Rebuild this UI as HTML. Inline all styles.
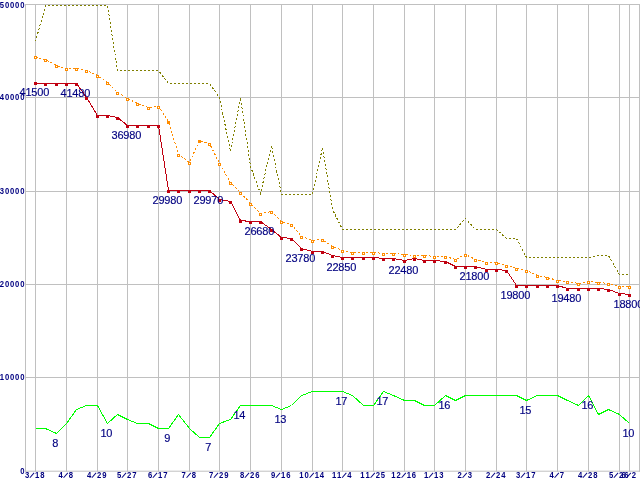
<!DOCTYPE html>
<html><head><meta charset="utf-8"><title>chart</title>
<style>
html,body{margin:0;padding:0;background:#fff;overflow:hidden}
svg{display:block}
.ax{font-family:"Liberation Sans","DejaVu Sans",sans-serif;font-weight:bold;font-size:9.6px;fill:#000080}
.vl{font-family:"Liberation Sans","DejaVu Sans",sans-serif;font-size:11px;fill:#000080;stroke:#000080;stroke-width:0.15px;letter-spacing:-0.2px}
</style></head><body>
<svg width="640" height="480" viewBox="0 0 640 480">
<rect width="640" height="480" fill="#fff"/>
<g stroke="#c0c0c0" stroke-width="1" fill="none">
<line x1="25" y1="4.5" x2="640" y2="4.5"/>
<line x1="25" y1="97.5" x2="640" y2="97.5"/>
<line x1="25" y1="191.5" x2="640" y2="191.5"/>
<line x1="25" y1="284.5" x2="640" y2="284.5"/>
<line x1="25" y1="377.5" x2="640" y2="377.5"/>
<line x1="25" y1="471.2" x2="640" y2="471.2"/>
<line x1="25.5" y1="4" x2="25.5" y2="471.7"/>
<line x1="639.5" y1="4" x2="639.5" y2="471.7"/>
<line x1="35.5" y1="4" x2="35.5" y2="471.7"/>
<line x1="66.5" y1="4" x2="66.5" y2="471.7"/>
<line x1="97.5" y1="4" x2="97.5" y2="471.7"/>
<line x1="127.5" y1="4" x2="127.5" y2="471.7"/>
<line x1="158.5" y1="4" x2="158.5" y2="471.7"/>
<line x1="189.5" y1="4" x2="189.5" y2="471.7"/>
<line x1="219.5" y1="4" x2="219.5" y2="471.7"/>
<line x1="250.5" y1="4" x2="250.5" y2="471.7"/>
<line x1="281.5" y1="4" x2="281.5" y2="471.7"/>
<line x1="312.5" y1="4" x2="312.5" y2="471.7"/>
<line x1="342.5" y1="4" x2="342.5" y2="471.7"/>
<line x1="373.5" y1="4" x2="373.5" y2="471.7"/>
<line x1="404.5" y1="4" x2="404.5" y2="471.7"/>
<line x1="434.5" y1="4" x2="434.5" y2="471.7"/>
<line x1="465.5" y1="4" x2="465.5" y2="471.7"/>
<line x1="496.5" y1="4" x2="496.5" y2="471.7"/>
<line x1="526.5" y1="4" x2="526.5" y2="471.7"/>
<line x1="557.5" y1="4" x2="557.5" y2="471.7"/>
<line x1="588.5" y1="4" x2="588.5" y2="471.7"/>
<line x1="619.5" y1="4" x2="619.5" y2="471.7"/>
<line x1="629.5" y1="4" x2="629.5" y2="471.7"/>
</g>
<polyline points="35.5,428.5 45.5,428.5 56.5,433.5 66.5,423.5 76.5,409.5 86.5,405.5 97.5,405.5 107.5,423.5 117.5,414.5 127.5,419.5 137.5,423.5 148.5,423.5 158.5,428.5 168.5,428.5 178.5,414.5 189.5,428.5 199.5,437.5 209.5,437.5 219.5,423.5 230.5,419.5 240.5,405.5 250.5,405.5 260.5,405.5 271.5,405.5 281.5,409.5 291.5,405.5 301.5,395.5 312.5,391.5 322.5,391.5 332.5,391.5 342.5,391.5 352.5,395.5 363.5,405.5 373.5,405.5 383.5,391.5 393.5,395.5 404.5,400.5 414.5,400.5 424.5,405.5 434.5,405.5 445.5,395.5 455.5,400.5 465.5,395.5 475.5,395.5 486.5,395.5 496.5,395.5 506.5,395.5 516.5,395.5 526.5,400.5 537.5,395.5 547.5,395.5 557.5,395.5 567.5,400.5 578.5,405.5 588.5,395.5 598.5,414.5 608.5,409.5 619.5,414.5 629.5,423.5" fill="none" stroke="#00ff00" stroke-width="1" shape-rendering="crispEdges"/>
<polyline points="35.5,41.5 45.5,5.5 56.5,5.5 66.5,5.5 76.5,5.5 86.5,5.5 97.5,5.5 107.5,5.5 117.5,70.5 127.5,70.5 137.5,70.5 148.5,70.5 158.5,70.5 168.5,83.5 178.5,83.5 189.5,83.5 199.5,83.5 209.5,83.5 219.5,97.5 230.5,151.5 240.5,97.5 250.5,166.5 260.5,193.5 271.5,145.5 281.5,194.5 291.5,194.5 301.5,194.5 312.5,194.5 322.5,147.5 332.5,209.5 342.5,229.5 352.5,229.5 363.5,229.5 373.5,229.5 383.5,229.5 393.5,229.5 404.5,229.5 414.5,229.5 424.5,229.5 434.5,229.5 445.5,229.5 455.5,229.5 465.5,218.5 475.5,229.5 486.5,229.5 496.5,229.5 506.5,238.5 516.5,238.5 526.5,257.5 537.5,257.5 547.5,257.5 557.5,257.5 567.5,257.5 578.5,257.5 588.5,257.5 598.5,255.5 608.5,255.5 619.5,274.5 629.5,274.5" fill="none" stroke="#808000" stroke-width="1" stroke-dasharray="2,2" shape-rendering="crispEdges"/>
<polyline points="35.5,57.5 45.5,59.5 56.5,65.5 66.5,68.5 76.5,68.5 86.5,70.5 97.5,75.5 107.5,82.5 117.5,92.5 127.5,98.5 137.5,103.5 148.5,107.5 158.5,106.5 168.5,121.5 178.5,154.5 189.5,162.5 199.5,140.5 209.5,143.5 219.5,163.5 230.5,182.5 240.5,192.5 250.5,203.5 260.5,213.5 271.5,211.5 281.5,221.5 291.5,224.5 301.5,236.5 312.5,240.5 322.5,239.5 332.5,246.5 342.5,250.5 352.5,252.5 363.5,252.5 373.5,252.5 383.5,253.5 393.5,253.5 404.5,254.5 414.5,255.5 424.5,255.5 434.5,256.5 445.5,256.5 455.5,259.5 465.5,254.5 475.5,259.5 486.5,262.5 496.5,262.5 506.5,265.5 516.5,268.5 526.5,270.5 537.5,275.5 547.5,277.5 557.5,280.5 567.5,281.5 578.5,283.5 588.5,281.5 598.5,282.5 608.5,283.5 619.5,286.5 629.5,286.5" fill="none" stroke="#ff8c00" stroke-width="1" stroke-dasharray="2,2" shape-rendering="crispEdges"/>
<g fill="#fff" stroke="#ff8c00" stroke-width="1">
<rect x="34.5" y="56.5" width="2" height="2"/>
<rect x="44.5" y="59.5" width="2" height="2"/>
<rect x="55.5" y="65.5" width="2" height="2"/>
<rect x="65.5" y="68.5" width="2" height="2"/>
<rect x="75.5" y="68.5" width="2" height="2"/>
<rect x="85.5" y="70.5" width="2" height="2"/>
<rect x="96.5" y="75.5" width="2" height="2"/>
<rect x="106.5" y="82.5" width="2" height="2"/>
<rect x="116.5" y="92.5" width="2" height="2"/>
<rect x="126.5" y="98.5" width="2" height="2"/>
<rect x="136.5" y="103.5" width="2" height="2"/>
<rect x="147.5" y="107.5" width="2" height="2"/>
<rect x="157.5" y="106.5" width="2" height="2"/>
<rect x="167.5" y="121.5" width="2" height="2" fill="#ff8c00"/>
<rect x="177.5" y="154.5" width="2" height="2"/>
<rect x="188.5" y="162.5" width="2" height="2"/>
<rect x="198.5" y="140.5" width="2" height="2" fill="#ff8c00"/>
<rect x="208.5" y="143.5" width="2" height="2"/>
<rect x="218.5" y="163.5" width="2" height="2"/>
<rect x="229.5" y="182.5" width="2" height="2"/>
<rect x="239.5" y="192.5" width="2" height="2"/>
<rect x="249.5" y="203.5" width="2" height="2"/>
<rect x="259.5" y="213.5" width="2" height="2"/>
<rect x="270.5" y="211.5" width="2" height="2"/>
<rect x="280.5" y="221.5" width="2" height="2"/>
<rect x="290.5" y="224.5" width="2" height="2"/>
<rect x="300.5" y="236.5" width="2" height="2"/>
<rect x="311.5" y="240.5" width="2" height="2"/>
<rect x="321.5" y="239.5" width="2" height="2"/>
<rect x="331.5" y="246.5" width="2" height="2"/>
<rect x="341.5" y="250.5" width="2" height="2"/>
<rect x="351.5" y="252.5" width="2" height="2"/>
<rect x="362.5" y="252.5" width="2" height="2"/>
<rect x="372.5" y="252.5" width="2" height="2"/>
<rect x="382.5" y="253.5" width="2" height="2"/>
<rect x="392.5" y="253.5" width="2" height="2"/>
<rect x="403.5" y="254.5" width="2" height="2"/>
<rect x="413.5" y="255.5" width="2" height="2"/>
<rect x="423.5" y="255.5" width="2" height="2"/>
<rect x="433.5" y="256.5" width="2" height="2"/>
<rect x="444.5" y="256.5" width="2" height="2"/>
<rect x="454.5" y="259.5" width="2" height="2"/>
<rect x="464.5" y="254.5" width="2" height="2"/>
<rect x="474.5" y="259.5" width="2" height="2"/>
<rect x="485.5" y="262.5" width="2" height="2"/>
<rect x="495.5" y="262.5" width="2" height="2"/>
<rect x="505.5" y="265.5" width="2" height="2"/>
<rect x="515.5" y="268.5" width="2" height="2"/>
<rect x="525.5" y="270.5" width="2" height="2"/>
<rect x="536.5" y="275.5" width="2" height="2"/>
<rect x="546.5" y="277.5" width="2" height="2"/>
<rect x="556.5" y="280.5" width="2" height="2"/>
<rect x="566.5" y="281.5" width="2" height="2"/>
<rect x="577.5" y="283.5" width="2" height="2"/>
<rect x="587.5" y="281.5" width="2" height="2"/>
<rect x="597.5" y="282.5" width="2" height="2"/>
<rect x="607.5" y="283.5" width="2" height="2"/>
<rect x="618.5" y="286.5" width="2" height="2"/>
<rect x="628.5" y="286.5" width="2" height="2"/>
</g>
<polyline points="35.5,83.5 45.5,83.5 56.5,83.5 66.5,83.5 76.5,83.5 86.5,97.5 97.5,115.5 107.5,115.5 117.5,117.5 127.5,125.5 137.5,125.5 148.5,125.5 158.5,125.5 168.5,190.5 178.5,190.5 189.5,190.5 199.5,190.5 209.5,190.5 219.5,199.5 230.5,201.5 240.5,220.5 250.5,221.5 260.5,221.5 271.5,229.5 281.5,237.5 291.5,238.5 301.5,248.5 312.5,251.5 322.5,251.5 332.5,255.5 342.5,257.5 352.5,257.5 363.5,257.5 373.5,257.5 383.5,258.5 393.5,258.5 404.5,260.5 414.5,258.5 424.5,260.5 434.5,260.5 445.5,261.5 455.5,266.5 465.5,266.5 475.5,266.5 486.5,269.5 496.5,269.5 506.5,270.5 516.5,285.5 526.5,285.5 537.5,285.5 547.5,285.5 557.5,285.5 567.5,288.5 578.5,288.5 588.5,288.5 598.5,288.5 608.5,289.5 619.5,293.5 629.5,294.5" fill="none" stroke="#c00010" stroke-width="1" shape-rendering="crispEdges"/>
<g fill="#c00010">
<rect x="34" y="82" width="3" height="3"/>
<rect x="44" y="83" width="3" height="3"/>
<rect x="55" y="83" width="3" height="3"/>
<rect x="65" y="83" width="3" height="3"/>
<rect x="75" y="83" width="3" height="3"/>
<rect x="85" y="97" width="3" height="3"/>
<rect x="96" y="115" width="3" height="3"/>
<rect x="106" y="115" width="3" height="3"/>
<rect x="116" y="117" width="3" height="3"/>
<rect x="126" y="125" width="3" height="3"/>
<rect x="136" y="125" width="3" height="3"/>
<rect x="147" y="125" width="3" height="3"/>
<rect x="157" y="125" width="3" height="3"/>
<rect x="167" y="190" width="3" height="3"/>
<rect x="177" y="190" width="3" height="3"/>
<rect x="188" y="190" width="3" height="3"/>
<rect x="198" y="190" width="3" height="3"/>
<rect x="208" y="190" width="3" height="3"/>
<rect x="218" y="199" width="3" height="3"/>
<rect x="229" y="201" width="3" height="3"/>
<rect x="239" y="220" width="3" height="3"/>
<rect x="249" y="221" width="3" height="3"/>
<rect x="259" y="221" width="3" height="3"/>
<rect x="270" y="229" width="3" height="3"/>
<rect x="280" y="237" width="3" height="3"/>
<rect x="290" y="238" width="3" height="3"/>
<rect x="300" y="248" width="3" height="3"/>
<rect x="311" y="251" width="3" height="3"/>
<rect x="321" y="251" width="3" height="3"/>
<rect x="331" y="255" width="3" height="3"/>
<rect x="341" y="257" width="3" height="3"/>
<rect x="351" y="257" width="3" height="3"/>
<rect x="362" y="257" width="3" height="3"/>
<rect x="372" y="257" width="3" height="3"/>
<rect x="382" y="258" width="3" height="3"/>
<rect x="392" y="258" width="3" height="3"/>
<rect x="403" y="260" width="3" height="3"/>
<rect x="413" y="258" width="3" height="3"/>
<rect x="423" y="260" width="3" height="3"/>
<rect x="433" y="260" width="3" height="3"/>
<rect x="444" y="261" width="3" height="3"/>
<rect x="454" y="266" width="3" height="3"/>
<rect x="464" y="266" width="3" height="3"/>
<rect x="474" y="266" width="3" height="3"/>
<rect x="485" y="269" width="3" height="3"/>
<rect x="495" y="269" width="3" height="3"/>
<rect x="505" y="270" width="3" height="3"/>
<rect x="515" y="285" width="3" height="3"/>
<rect x="525" y="285" width="3" height="3"/>
<rect x="536" y="285" width="3" height="3"/>
<rect x="546" y="285" width="3" height="3"/>
<rect x="556" y="285" width="3" height="3"/>
<rect x="566" y="288" width="3" height="3"/>
<rect x="577" y="288" width="3" height="3"/>
<rect x="587" y="288" width="3" height="3"/>
<rect x="597" y="288" width="3" height="3"/>
<rect x="607" y="289" width="3" height="3"/>
<rect x="618" y="293" width="3" height="3"/>
<rect x="628" y="294" width="3" height="3"/>
</g>
<g class="vl" text-anchor="middle">
<text x="34.30" y="95.70">41500</text>
<text x="75.30" y="96.70">41480</text>
<text x="126.30" y="138.70">36980</text>
<text x="167.30" y="203.70">29980</text>
<text x="208.30" y="203.70">29970</text>
<text x="259.30" y="234.70">26680</text>
<text x="300.30" y="261.70">23780</text>
<text x="341.30" y="270.70">22850</text>
<text x="403.30" y="273.70">22480</text>
<text x="474.30" y="279.70">21800</text>
<text x="515.30" y="298.70">19800</text>
<text x="566.30" y="301.70">19480</text>
<text x="628.30" y="307.70">18800</text>
<text x="55.30" y="447.10">8</text>
<text x="106.30" y="437.10">10</text>
<text x="167.30" y="442.10">9</text>
<text x="208.30" y="451.10">7</text>
<text x="239.30" y="419.10">14</text>
<text x="280.30" y="423.10">13</text>
<text x="341.30" y="405.10">17</text>
<text x="382.30" y="405.10">17</text>
<text x="444.30" y="409.10">16</text>
<text x="525.30" y="414.10">15</text>
<text x="587.30" y="409.10">16</text>
<text x="628.30" y="437.10">10</text>
</g>
<g class="ax">
<text transform="scale(0.8,1)" x="2.44 8.81 15.19 21.56 27.94" y="7.50" text-anchor="middle">50000</text>
<text transform="scale(0.8,1)" x="2.44 8.81 15.19 21.56 27.94" y="100.50" text-anchor="middle">40000</text>
<text transform="scale(0.8,1)" x="2.44 8.81 15.19 21.56 27.94" y="194.50" text-anchor="middle">30000</text>
<text transform="scale(0.8,1)" x="2.44 8.81 15.19 21.56 27.94" y="287.50" text-anchor="middle">20000</text>
<text transform="scale(0.8,1)" x="2.44 8.81 15.19 21.56 27.94" y="380.50" text-anchor="middle">10000</text>
<text transform="scale(0.8,1)" x="27.94" y="474.20" text-anchor="middle">0</text>
<text transform="scale(0.8,1)" x="33.81 38.31 46.56 52.94" y="478.20 477.20 478.20 478.20" text-anchor="middle" rotate="0 36 0 0">3/18</text>
<text transform="scale(0.8,1)" x="75.75 80.25 88.50" y="478.20 477.20 478.20" text-anchor="middle" rotate="0 36 0">4/8</text>
<text transform="scale(0.8,1)" x="111.31 115.81 124.06 130.44" y="478.20 477.20 478.20 478.20" text-anchor="middle" rotate="0 36 0 0">4/29</text>
<text transform="scale(0.8,1)" x="148.81 153.31 161.56 167.94" y="478.20 477.20 478.20 478.20" text-anchor="middle" rotate="0 36 0 0">5/27</text>
<text transform="scale(0.8,1)" x="187.56 192.06 200.31 206.69" y="478.20 477.20 478.20 478.20" text-anchor="middle" rotate="0 36 0 0">6/17</text>
<text transform="scale(0.8,1)" x="229.50 234.00 242.25" y="478.20 477.20 478.20" text-anchor="middle" rotate="0 36 0">7/8</text>
<text transform="scale(0.8,1)" x="263.81 268.31 276.56 282.94" y="478.20 477.20 478.20 478.20" text-anchor="middle" rotate="0 36 0 0">7/29</text>
<text transform="scale(0.8,1)" x="302.56 307.06 315.31 321.69" y="478.20 477.20 478.20 478.20" text-anchor="middle" rotate="0 36 0 0">8/26</text>
<text transform="scale(0.8,1)" x="341.31 345.81 354.06 360.44" y="478.20 477.20 478.20 478.20" text-anchor="middle" rotate="0 36 0 0">9/16</text>
<text transform="scale(0.8,1)" x="376.88 383.25 387.75 396.00 402.37" y="478.20 478.20 477.20 478.20 478.20" text-anchor="middle" rotate="0 0 36 0 0">10/14</text>
<text transform="scale(0.8,1)" x="417.56 423.94 428.44 436.69" y="478.20 478.20 477.20 478.20" text-anchor="middle" rotate="0 0 36 0">11/4</text>
<text transform="scale(0.8,1)" x="453.12 459.50 464.00 472.25 478.62" y="478.20 478.20 477.20 478.20 478.20" text-anchor="middle" rotate="0 0 36 0 0">11/25</text>
<text transform="scale(0.8,1)" x="491.88 498.25 502.75 511.00 517.37" y="478.20 478.20 477.20 478.20 478.20" text-anchor="middle" rotate="0 0 36 0 0">12/16</text>
<text transform="scale(0.8,1)" x="532.56 537.06 545.31 551.69" y="478.20 477.20 478.20 478.20" text-anchor="middle" rotate="0 36 0 0">1/13</text>
<text transform="scale(0.8,1)" x="574.50 579.00 587.25" y="478.20 477.20 478.20" text-anchor="middle" rotate="0 36 0">2/3</text>
<text transform="scale(0.8,1)" x="610.06 614.56 622.81 629.19" y="478.20 477.20 478.20 478.20" text-anchor="middle" rotate="0 36 0 0">2/24</text>
<text transform="scale(0.8,1)" x="647.56 652.06 660.31 666.69" y="478.20 477.20 478.20 478.20" text-anchor="middle" rotate="0 36 0 0">3/17</text>
<text transform="scale(0.8,1)" x="689.50 694.00 702.25" y="478.20 477.20 478.20" text-anchor="middle" rotate="0 36 0">4/7</text>
<text transform="scale(0.8,1)" x="725.06 729.56 737.81 744.19" y="478.20 477.20 478.20 478.20" text-anchor="middle" rotate="0 36 0 0">4/28</text>
<text transform="scale(0.8,1)" x="763.81 768.31 776.56 782.94" y="478.20 477.20 478.20 478.20" text-anchor="middle" rotate="0 36 0 0">5/26</text>
<text transform="scale(0.8,1)" x="779.50 784.00 792.25" y="478.20 477.20 478.20" text-anchor="middle" rotate="0 36 0">6/2</text>
</g>
</svg>
</body></html>
